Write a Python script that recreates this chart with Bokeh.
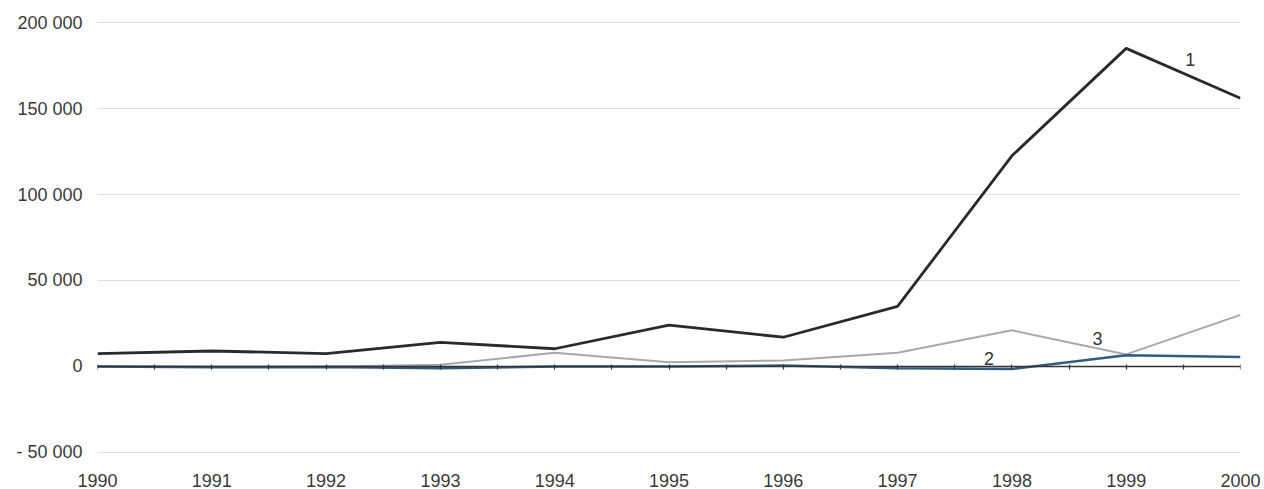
from bokeh.plotting import figure
from bokeh.models import FixedTicker, LinearAxis, Range1d
from bokeh.core.properties import value
from bokeh.embed import file_html
from bokeh.resources import INLINE

years = [1990, 1991, 1992, 1993, 1994, 1995, 1996, 1997, 1998, 1999, 2000]
series_1 = [7500, 9000, 7500, 14000, 10300, 24000, 17000, 35000, 122500, 185000, 156000]
series_2 = [0, -500, -300, -1000, 0, 0, 500, -1000, -1500, 6500, 5500]
series_3 = [0, 0, 0, 1000, 8000, 2500, 3500, 8000, 21000, 7000, 30000]

y_ticks = [-50000, 0, 50000, 100000, 150000, 200000]
y_tick_labels = ["- 50 000", "0", "50 000", "100 000", "150 000", "200 000"]

label_texts = ["1", "2", "3"]
label_x = [1999.56, 1997.8, 1998.75]
label_y = [178500, 4500, 16300]

FONT = "Liberation Sans"
TXT = "#3a3a3a"

pad = 1200
p = figure(width=1262, height=489, output_backend="svg", toolbar_location=None,
           x_range=Range1d(years[0], years[-1]),
           y_range=Range1d(y_ticks[0] - pad, y_ticks[-1] + pad),
           min_border_left=97, min_border_right=22, min_border_top=20, min_border_bottom=35)
p.outline_line_color = None
p.background_fill_color = "white"
p.border_fill_color = "white"

# grid
p.xgrid.grid_line_color = None
p.ygrid.ticker = FixedTicker(ticks=y_ticks)
p.ygrid.grid_line_color = "#dedede"
p.ygrid.grid_line_width = 1

# y axis
p.yaxis.ticker = FixedTicker(ticks=y_ticks)
p.yaxis.major_label_overrides = {t: l for t, l in zip(y_ticks, y_tick_labels)}
p.yaxis.axis_line_color = None
p.yaxis.major_tick_line_color = None
p.yaxis.minor_tick_line_color = None
p.yaxis.major_tick_in = 0
p.yaxis.major_tick_out = 0
p.yaxis.major_label_standoff = 15
p.yaxis.major_label_text_font = FONT
p.yaxis.major_label_text_font_size = "18px"
p.yaxis.major_label_text_color = TXT

# x axis (labels only)
p.xaxis.ticker = FixedTicker(ticks=years)
p.xaxis.major_label_overrides = {y: str(y) for y in years}
p.xaxis.axis_line_color = None
p.xaxis.major_tick_line_color = None
p.xaxis.minor_tick_line_color = None
p.xaxis.major_tick_in = 0
p.xaxis.major_tick_out = 0
p.xaxis.major_label_standoff = 19
p.xaxis.major_label_text_font = FONT
p.xaxis.major_label_text_font_size = "18px"
p.xaxis.major_label_text_color = TXT

# zero axis line with half-year ticks
half_ticks = sorted(set(years + [y + 0.5 for y in years[:-1]]))
zero_axis = LinearAxis(fixed_location=0, ticker=FixedTicker(ticks=half_ticks))
zero_axis.axis_line_color = "#333333"
zero_axis.axis_line_width = 1.5
zero_axis.major_tick_line_color = "#333333"
zero_axis.major_tick_line_width = 1.2
zero_axis.major_tick_in = 2
zero_axis.major_tick_out = 3
zero_axis.minor_tick_line_color = None
zero_axis.major_label_text_font_size = "0px"
zero_axis.major_label_text_alpha = 0
p.add_layout(zero_axis, "below")

# series
p.line(years, series_3, line_color="#a9a9a9", line_width=2)
p.line(years, series_2, line_color="#2f5d80", line_width=2.5)
p.line(years, series_1, line_color="#2a2a2a", line_width=2.8)

p.text(x=label_x, y=label_y, text=label_texts, text_font=value(FONT),
       text_font_size="18px", text_color="#333333", text_align="center",
       text_baseline="middle")

open("out.html", "w").write(file_html(p, INLINE))
